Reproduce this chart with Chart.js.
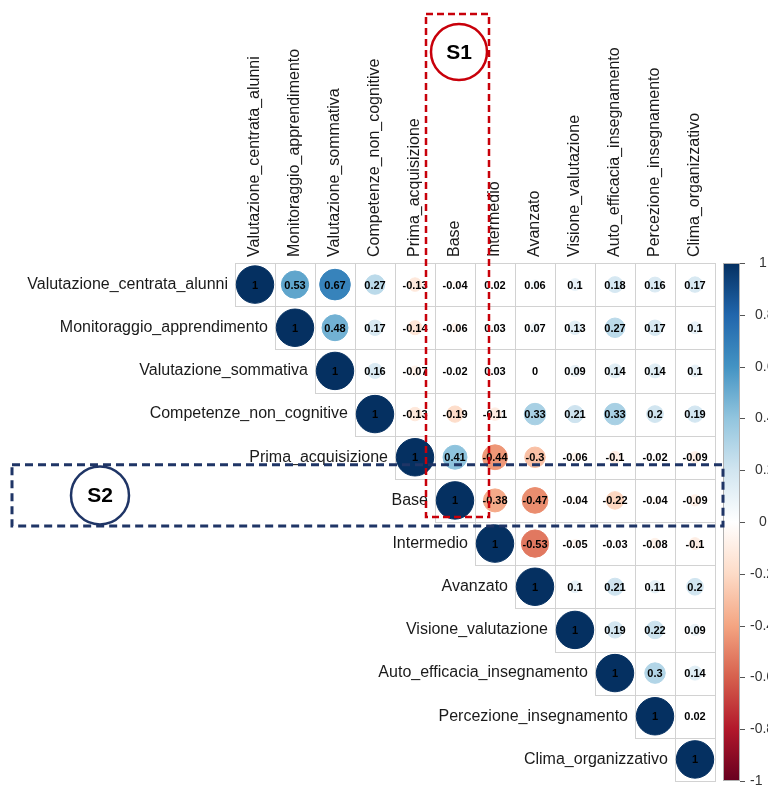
<!DOCTYPE html>
<html>
<head>
<meta charset="utf-8">
<title>Correlazioni</title>
<script src="https://cdn.jsdelivr.net/npm/chart.js@4.4.1/dist/chart.umd.min.js"></script>
<style>
    html, body { margin: 0; padding: 0; background: #fff; }
    #wrap { position: relative; width: 768px; height: 785px; }
</style>
</head>
<body>
<div id="wrap"><canvas id="chartCanvas"></canvas></div>
<script>
// Variables (rows and columns of the matrix)
const variables = [
    'Valutazione_centrata_alunni',
    'Monitoraggio_apprendimento',
    'Valutazione_sommativa',
    'Competenze_non_cognitive',
    'Prima_acquisizione',
    'Base',
    'Intermedio',
    'Avanzato',
    'Visione_valutazione',
    'Auto_efficacia_insegnamento',
    'Percezione_insegnamento',
    'Clima_organizzativo'
];

// Upper triangle, each row starts on the diagonal
const rowValutazioneCentrata = [1, 0.53, 0.67, 0.27, -0.13, -0.04, 0.02, 0.06, 0.1, 0.18, 0.16, 0.17];
const rowMonitoraggio = [1, 0.48, 0.17, -0.14, -0.06, 0.03, 0.07, 0.13, 0.27, 0.17, 0.1];
const rowSommativa = [1, 0.16, -0.07, -0.02, 0.03, 0, 0.09, 0.14, 0.14, 0.1];
const rowCompetenze = [1, -0.13, -0.19, -0.11, 0.33, 0.21, 0.33, 0.2, 0.19];
const rowPrima = [1, 0.41, -0.44, -0.3, -0.06, -0.1, -0.02, -0.09];
const rowBase = [1, -0.38, -0.47, -0.04, -0.22, -0.04, -0.09];
const rowIntermedio = [1, -0.53, -0.05, -0.03, -0.08, -0.1];
const rowAvanzato = [1, 0.1, 0.21, 0.11, 0.2];
const rowVisione = [1, 0.19, 0.22, 0.09];
const rowAutoEfficacia = [1, 0.3, 0.14];
const rowPercezione = [1, 0.02];
const rowClima = [1];

const matrixRows = [
    rowValutazioneCentrata, rowMonitoraggio, rowSommativa, rowCompetenze,
    rowPrima, rowBase, rowIntermedio, rowAvanzato,
    rowVisione, rowAutoEfficacia, rowPercezione, rowClima
];

// Colour legend ticks
const legendTicks = [1, 0.8, 0.6, 0.4, 0.2, 0, -0.2, -0.4, -0.6, -0.8, -1];

// RdBu palette from -1 to 1
const palette = ['#67001F', '#B2182B', '#D6604D', '#F4A582', '#FDDBC7', '#FFFFFF',
                 '#D1E5F0', '#92C5DE', '#4393C3', '#2166AC', '#053061'];

const FONT = '"Liberation Sans", Arial, Helvetica, sans-serif';

function hexToRgb(h) {
    return [parseInt(h.slice(1, 3), 16), parseInt(h.slice(3, 5), 16), parseInt(h.slice(5, 7), 16)];
}

function colorFor(v) {
    const t = (Math.max(-1, Math.min(1, v)) + 1) / 2 * (palette.length - 1);
    const i = Math.min(Math.floor(t), palette.length - 2);
    const f = t - i;
    const a = hexToRgb(palette[i]), b = hexToRgb(palette[i + 1]);
    const c = a.map((x, k) => Math.round(x + (b[k] - x) * f));
    return `rgb(${c[0]}, ${c[1]}, ${c[2]})`;
}

// Build points from the rows
const points = [];
matrixRows.forEach((row, i) => {
    row.forEach((v, k) => {
        points.push({ x: i + k, y: i, v: v });
    });
});

// circle radius in pixels, area follows |r| like corrplot
function circleRadius(c) {
    if (!c.raw) return 0;
    const sx = c.chart.scales.x, sy = c.chart.scales.y;
    const cw = Math.abs(sx.getPixelForValue(1) - sx.getPixelForValue(0));
    const ch = Math.abs(sy.getPixelForValue(1) - sy.getPixelForValue(0));
    const r = 0.45 * Math.sqrt(Math.abs(c.raw.v)) * (cw + ch) / 2;
    return isFinite(r) ? r : 0;
}

function circleColor(c) {
    if (!c.raw) return 'rgba(0,0,0,0)';
    return colorFor(c.raw.v);
}

// Cell borders of the upper triangle
const gridPlugin = {
    id: 'cellGrid',
    beforeDatasetsDraw(chart) {
        const { ctx, scales: { x, y } } = chart;
        ctx.save();
        ctx.strokeStyle = '#d2d2d2';
        ctx.lineWidth = 1;
        matrixRows.forEach((row, i) => {
            const y0 = Math.round(y.getPixelForValue(i - 0.5)) + 0.5;
            const y1 = Math.round(y.getPixelForValue(i + 0.5)) + 0.5;
            row.forEach((v, k) => {
                const x0 = Math.round(x.getPixelForValue(i + k - 0.5)) + 0.5;
                const x1 = Math.round(x.getPixelForValue(i + k + 0.5)) + 0.5;
                ctx.strokeRect(x0, y0, x1 - x0, y1 - y0);
            });
        });
        ctx.restore();
    }
};

// Coefficients, labels, colour legend and the S1 / S2 marks
const labelPlugin = {
    id: 'matrixLabels',
    afterDatasetsDraw(chart) {
        const { ctx, scales: { x, y, cbar } } = chart;
        const meta = chart.getDatasetMeta(0);

        ctx.save();
        // coefficients
        ctx.fillStyle = '#000';
        ctx.font = 'bold 11px ' + FONT;
        ctx.textAlign = 'center';
        ctx.textBaseline = 'middle';
        meta.data.forEach((el, idx) => {
            ctx.fillText(String(points[idx].v), el.x, el.y + 1);
        });

        // row labels next to the diagonal
        ctx.font = '16px ' + FONT;
        ctx.fillStyle = '#1a1a1a';
        ctx.textAlign = 'right';
        variables.forEach((name, i) => {
            ctx.fillText(name, x.getPixelForValue(i - 0.5) - 7, y.getPixelForValue(i));
        });

        // column labels on top
        const top = y.getPixelForValue(-0.5);
        variables.forEach((name, j) => {
            ctx.save();
            ctx.translate(x.getPixelForValue(j), top - 6);
            ctx.rotate(-Math.PI / 2);
            ctx.textAlign = 'left';
            ctx.textBaseline = 'middle';
            ctx.fillText(name, 0, 0);
            ctx.restore();
        });

        // colour legend
        const bx = 723, bw = 17;
        const yTop = cbar.getPixelForValue(1), yBot = cbar.getPixelForValue(-1);
        const grad = ctx.createLinearGradient(0, yBot, 0, yTop);
        palette.forEach((c, k) => grad.addColorStop(k / (palette.length - 1), c));
        ctx.fillStyle = grad;
        ctx.fillRect(bx, yTop, bw, yBot - yTop);
        ctx.strokeStyle = '#b0b0b0';
        ctx.lineWidth = 1;
        ctx.strokeRect(bx + 0.5, yTop + 0.5, bw - 1, yBot - yTop - 1);

        ctx.strokeStyle = '#555';
        ctx.fillStyle = '#333';
        ctx.font = '14px ' + FONT;
        ctx.textAlign = 'left';
        legendTicks.forEach(t => {
            const py = Math.round(cbar.getPixelForValue(t)) + 0.5;
            ctx.beginPath();
            ctx.moveTo(bx + bw, py);
            ctx.lineTo(bx + bw + 5, py);
            ctx.stroke();
            const lx = t < 0 ? 750 : (t === 0 || t === 1 ? 759 : 755);
            ctx.fillText(String(t), lx, py);
        });
        ctx.restore();
    },
    afterDraw(chart) {
        const { ctx, scales: { x, y } } = chart;
        ctx.save();

        // S2: dashed band round the Base row
        const baseRow = variables.indexOf('Base');
        const s2Top = y.getPixelForValue(baseRow - 0.5) - 14;
        const s2Bot = y.getPixelForValue(baseRow + 0.5) + 4;
        ctx.setLineDash([8, 5]);
        ctx.lineWidth = 3;
        ctx.strokeStyle = '#1f3566';
        ctx.strokeRect(12, s2Top, 723 - 12, s2Bot - s2Top);

        // S1: dashed band round the Base column
        const cx = x.getPixelForValue(baseRow);
        ctx.strokeStyle = '#c8000a';
        ctx.lineWidth = 2.5;
        ctx.setLineDash([7, 4]);
        ctx.strokeRect(cx - 29, 14, 63, y.getPixelForValue(baseRow + 0.5) - 5 - 14);
        ctx.setLineDash([]);

        // circled tags
        function tag(px, py, r, color, text) {
            ctx.beginPath();
            ctx.arc(px, py, r, 0, Math.PI * 2);
            ctx.fillStyle = '#fff';
            ctx.fill();
            ctx.lineWidth = 2.5;
            ctx.strokeStyle = color;
            ctx.stroke();
            ctx.fillStyle = '#000';
            ctx.font = 'bold 21px ' + FONT;
            ctx.textAlign = 'center';
            ctx.textBaseline = 'middle';
            ctx.fillText(text, px, py + 1);
        }
        tag(cx + 4, 52, 28, '#c8000a', 'S1');
        tag(100, (s2Top + s2Bot) / 2, 29, '#1f3566', 'S2');
        ctx.restore();
    }
};

function renderMatrix() {
    const ctx = document.getElementById('chartCanvas').getContext('2d');
    new Chart(ctx, {
        type: 'scatter',
        data: {
            datasets: [{
                data: points,
                pointRadius: circleRadius,
                pointBackgroundColor: circleColor,
                pointBorderColor: circleColor,
                pointBorderWidth: 1,
                showLine: false
            }]
        },
        options: {
            responsive: true,
            maintainAspectRatio: false,
            animation: false,
            events: [],
            layout: { padding: { left: 235, right: 53, top: 263, bottom: 4 } },
            plugins: { legend: { display: false }, tooltip: { enabled: false } },
            scales: {
                x: { type: 'linear', min: -0.5, max: 11.5, display: false },
                y: { type: 'linear', min: -0.5, max: 11.5, reverse: true, display: false },
                cbar: { type: 'linear', axis: 'y', min: -1, max: 1, display: false }
            }
        },
        plugins: [gridPlugin, labelPlugin]
    });
}

document.addEventListener('DOMContentLoaded', renderMatrix);
</script>
</body>
</html>
